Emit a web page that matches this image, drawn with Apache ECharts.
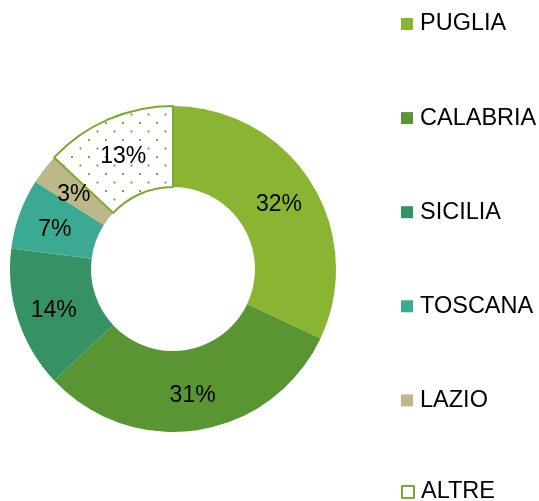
<!DOCTYPE html>
<html>
<head>
<meta charset="utf-8">
<title>Regioni</title>
<script src="https://cdn.jsdelivr.net/npm/echarts@6/dist/echarts.min.js"></script>
<style>
  html, body { margin: 0; padding: 0; background: #fff; }
  #chart { width: 539px; height: 501px; }
</style>
</head>
<body>
<div id="chart"></div>
<script>
// dati
var regioni = ['PUGLIA', 'CALABRIA', 'SICILIA', 'TOSCANA', 'LAZIO', 'ALTRE'];
var quote = [32, 31, 14, 7, 3, 13];
var colori = ['#8ab533', '#5a9533', '#359263', '#3caa93', '#bdb78a', '#7aab2e'];

/* trama a puntini per ALTRE */
function trama () {
  var c = document.createElement('canvas');
  c.width = 17;
  c.height = 17;
  var ctx = c.getContext('2d');
  ctx.fillStyle = '#fff';
  ctx.fillRect(0, 0, 17, 17);
  ctx.fillStyle = '#7aab2e';
  ctx.fillRect(3, 3, 2, 2);
  ctx.fillRect(11.5, 11.5, 2, 2);
  return c;
}

var chart = echarts.init(document.getElementById('chart'));

var dati = regioni.map(function (nome, i) {
  var item = { name: nome, value: quote[i], itemStyle: { color: colori[i] } };
  if (nome === 'ALTRE') {
    item.itemStyle = {
      color: { image: trama(), repeat: 'repeat' },
      borderColor: colori[i],
      borderWidth: 2
    };
  }
  return item;
});

var legenda = regioni.map(function (nome, i) {
  if (nome === 'ALTRE') {
    return { name: nome, itemStyle: { color: '#fff', borderColor: colori[i], borderWidth: 2 } };
  }
  return { name: nome, itemStyle: { color: colori[i] } };
});

var testoLegenda = {
  fontFamily: 'Liberation Sans',
  fontSize: 23.5,
  color: '#000',
  padding: [0, 0, 0, 2]
};

// la legenda e' divisa in due: l'ultima voce non ci sta in altezza
chart.setOption({
  animation: false,
  legend: [{
    orient: 'vertical',
    left: 401,
    top: 12,
    padding: 0,
    icon: 'rect',
    itemWidth: 12,
    itemHeight: 12,
    itemGap: 70.1,
    selectedMode: false,
    data: legenda.slice(0, 5),
    textStyle: testoLegenda
  }, {
    orient: 'vertical',
    left: 401,
    top: 480,
    padding: 0,
    icon: 'rect',
    itemWidth: 12,
    itemHeight: 12,
    selectedMode: false,
    data: legenda.slice(5),
    textStyle: testoLegenda
  }],
  series: [{
    type: 'pie',
    radius: [82, 163],
    center: [173, 269],
    startAngle: 90,
    clockwise: true,
    avoidLabelOverlap: false,
    silent: true,
    label: {
      show: true,
      position: 'inside',
      formatter: '{d}%',
      fontFamily: 'Liberation Sans',
      fontSize: 23,
      color: '#000',
      offset: [0, 3]
    },
    labelLine: { show: false },
    data: dati
  }]
});
</script>
</body>
</html>
